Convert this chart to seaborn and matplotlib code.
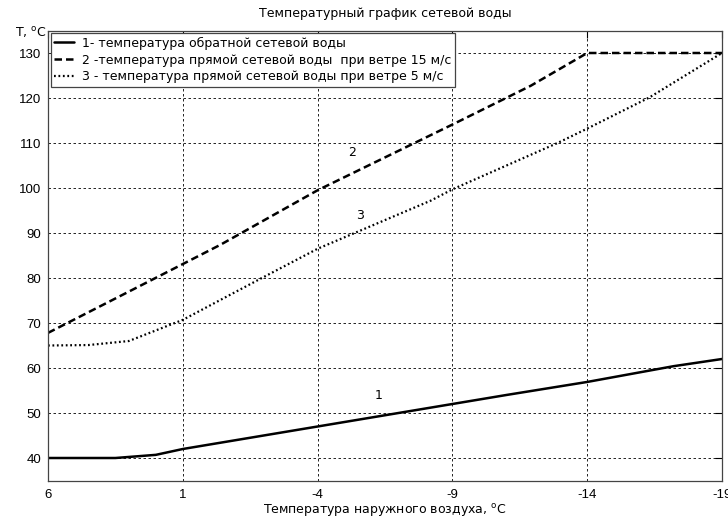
import matplotlib
matplotlib.use("Agg")
import matplotlib.pyplot as plt
import seaborn as sns
import pandas as pd

# ---- data ----
x_return = [6, 3.5, 2, 1, -4, -6.3, -9, -11, -14, -17.2, -19]
t_return = [40, 40, 40.7, 42, 47, 49.3, 52, 54, 56.9, 60.4, 62]

x_supply15 = [6, 1, -0.4, -4, -9, -11.9, -14, -19]
t_supply15 = [67.8, 83.1, 87.4, 99.5, 114.1, 122.7, 130, 130]

x_supply5 = [6, 4.5, 3, 1, -1.9, -4, -8.2, -9, -12.9, -14, -16.3, -19]
t_supply5 = [65, 65.1, 66, 70.7, 79.9, 86.5, 97.2, 99.7, 110, 113.2, 120.1, 130]

x_ticks = [6, 1, -4, -9, -14, -19]
y_ticks = [40, 50, 60, 70, 80, 90, 100, 110, 120, 130]

labels = ["1- температура обратной сетевой воды",
          "2 -температура прямой сетевой воды  при ветре 15 м/с",
          "3 - температура прямой сетевой воды при ветре 5 м/с"]
title = "Температурный график сетевой воды"
xlabel = "Температура наружного воздуха, $^{\\mathrm{o}}$C"
ylabel = "T, $^{\\mathrm{o}}$C"

sns.set_theme(style="white")
plt.rcParams["font.family"] = ["DejaVu Sans"]
plt.rcParams["mathtext.fontset"] = "dejavusans"
plt.rcParams["text.color"] = "black"
plt.rcParams["axes.labelcolor"] = "black"
tick_font = ["Liberation Sans", "DejaVu Sans"]

fig = plt.figure(figsize=(7.28, 5.2), dpi=100)
ax = fig.add_axes([48/728, 1-480.5/520, (722-48)/728, (480.5-30.5)/520])

df1 = pd.DataFrame({"x": x_return, "y": t_return})
df2 = pd.DataFrame({"x": x_supply15, "y": t_supply15})
df3 = pd.DataFrame({"x": x_supply5, "y": t_supply5})

sns.lineplot(data=df1, x="x", y="y", sort=False, ax=ax, color="black", lw=1.8,
             linestyle="-", label=labels[0], estimator=None)
sns.lineplot(data=df2, x="x", y="y", sort=False, ax=ax, color="black", lw=1.8,
             dashes=False, linestyle=(0, (3.0, 1.6)), label=labels[1], estimator=None)
sns.lineplot(data=df3, x="x", y="y", sort=False, ax=ax, color="black", lw=1.6,
             linestyle=(0, (0.8, 1.2)), label=labels[2], estimator=None)

ax.set_xlim(6, -19)
ax.set_ylim(35, 135)
ax.set_xticks(x_ticks)
ax.set_xticklabels([str(v) for v in x_ticks], family=tick_font)
ax.set_yticks(y_ticks)
ax.set_yticklabels([str(v) for v in y_ticks], family=tick_font)
ax.set_xlabel(xlabel, fontsize=9, labelpad=1, color="black")
ax.set_ylabel("")
ax.grid(True, color="black", linestyle=(0, (3, 3)), linewidth=0.6)
ax.tick_params(direction="in", length=5, width=0.8, top=True, right=True,
               labelsize=9.5, colors="black", pad=5)
ax.tick_params(axis="x", pad=6)
for s in ax.spines.values():
    s.set_visible(True)
    s.set_color("#444444")
    s.set_linewidth(0.9)

ax.set_title(title, fontsize=9, pad=10, color="black")
fig.text(47/728, 1-33/520, ylabel, ha="right", va="center", fontsize=9, color="black")

ax.text(-6.28, 53.8, "1", fontsize=9, ha="center", va="center", color="black")
ax.text(-5.28, 108, "2", fontsize=9, ha="center", va="center", color="black")
ax.text(-5.57, 94, "3", fontsize=9, ha="center", va="center", color="black")

leg = ax.legend(loc="upper left", fontsize=9, frameon=True, fancybox=False,
                edgecolor="#444444", framealpha=1, borderaxespad=0.2,
                handlelength=1.6, handletextpad=0.6, labelspacing=0.3,
                borderpad=0.3)
leg.get_frame().set_linewidth(0.9)
for t in leg.get_texts():
    t.set_color("black")

fig.savefig("out.png", dpi=100)
